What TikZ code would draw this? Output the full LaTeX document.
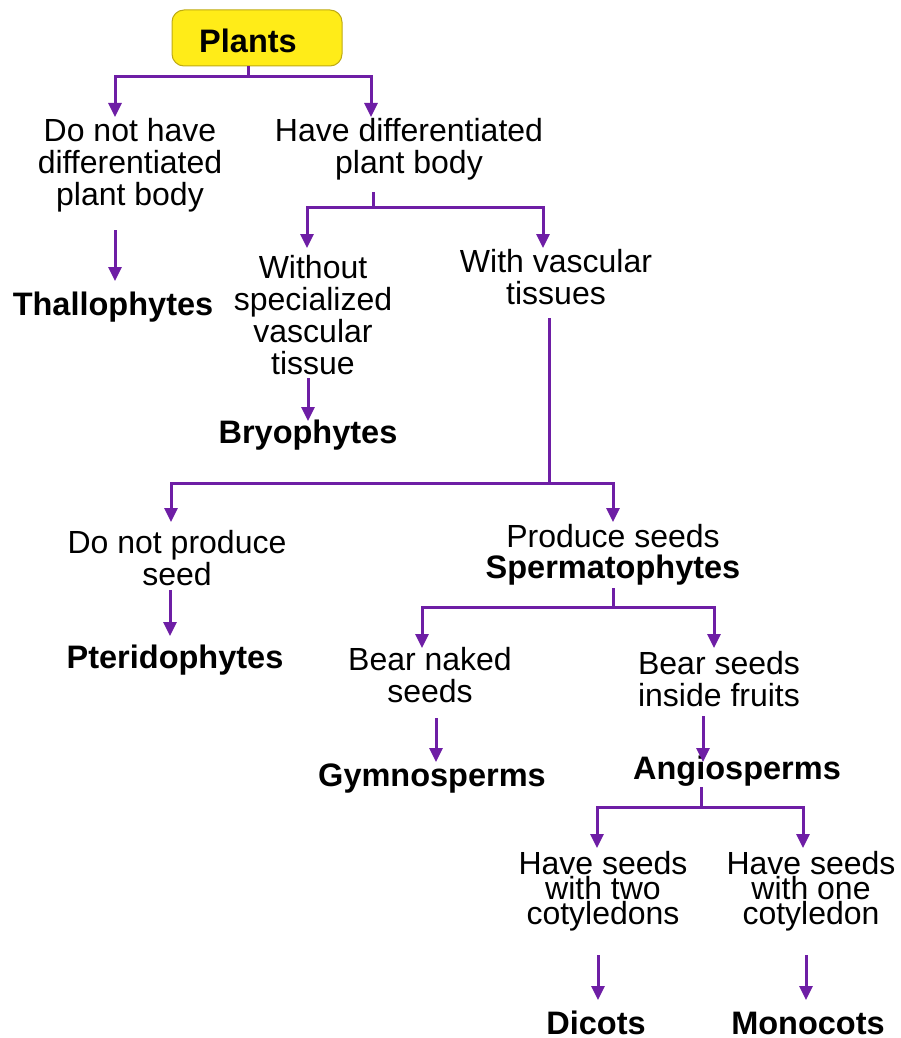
\documentclass[tikz,border=0pt]{standalone}
\usepackage{fontspec}
\setmainfont{Liberation Sans}
\usetikzlibrary{arrows.meta}
\definecolor{lineP}{RGB}{110,30,165}
\definecolor{boxY}{RGB}{255,236,24}
\definecolor{boxB}{RGB}{190,170,20}
\begin{document}
\begin{tikzpicture}[x=1pt,y=-1pt,
  txt/.style={font=\fontsize{32}{32}\selectfont, align=center, inner sep=0pt},
  tight/.style={font=\fontsize{32}{25}\selectfont, align=center, inner sep=0pt},
  bold/.style={font=\fontsize{32.5}{32}\selectfont\bfseries, inner sep=0pt},
  rootbox/.style={draw=boxB, fill=boxY, rounded corners=12pt, minimum width=170pt,
                  minimum height=56pt, line width=1pt},
  conn/.style={draw=lineP, line width=3pt},
  arr/.style={conn, -{Triangle[width=13pt,length=14pt]}}
]
\useasboundingbox (0,0) rectangle (901,1038);
% root
\node[rootbox] (plants) at (257,38) {};
\node[bold] (plantsT) at (248,41) {Plants};
% texts
\node[txt] (a) at (130,165) {Do not have\\differentiated\\plant body};
\node[bold] (thallo) at (113,307) {Thallophytes};
\node[txt] (b) at (409,149) {Have differentiated\\plant body};
\node[txt] (c) at (313,315) {Without\\specialized\\vascular\\tissue};
\node[bold] (bryo) at (308,435) {Bryophytes};
\node[txt] (d) at (556,277) {With vascular\\tissues};
\node[txt] (e) at (177,558) {Do not produce\\seed};
\node[bold] (pterido) at (175,660) {Pteridophytes};
\node[txt] (f) at (613,536) {Produce seeds};
\node[bold] (sperm) at (613,570) {Spermatophytes};
\node[txt] (g) at (430,675) {Bear naked\\seeds};
\node[bold] (gymno) at (432,779) {Gymnosperms};
\node[txt] (h) at (719,679) {Bear seeds\\inside fruits};
\node[bold] (angio) at (737,771) {Angiosperms};
\node[tight] (i) at (603,891) {Have seeds\\with two\\cotyledons};
\node[tight] (j) at (811,891) {Have seeds\\with one\\cotyledon};
\node[bold] (dicots) at (596,1023) {Dicots};
\node[bold] (mono) at (808,1023) {Monocots};
% coordinates
\coordinate (j1) at (248,77);
\coordinate (t1a) at (115,117);
\coordinate (t1b) at (371,117);
\coordinate (s2) at (373,192);
\coordinate (j2) at (373,207);
\coordinate (t2a) at (307,248);
\coordinate (t2b) at (543,248);
\coordinate (sa) at (115,230);
\coordinate (ta) at (115,281);
\coordinate (sc) at (308,378);
\coordinate (tc) at (308,421);
\coordinate (s3) at (549,318);
\coordinate (j3) at (549,483);
\coordinate (t3a) at (171,522);
\coordinate (t3b) at (613,522);
\coordinate (se) at (170,590);
\coordinate (te) at (170,636);
\coordinate (s4) at (613,588);
\coordinate (j4) at (613,607);
\coordinate (t4a) at (422,648);
\coordinate (t4b) at (714,648);
\coordinate (sg) at (436,718);
\coordinate (tg) at (436,762);
\coordinate (sh) at (703,716);
\coordinate (th) at (703,762);
\coordinate (s5) at (701,787);
\coordinate (j5) at (701,807);
\coordinate (t5a) at (597,848);
\coordinate (t5b) at (803,848);
\coordinate (si) at (598,955);
\coordinate (ti) at (598,1000);
\coordinate (sj) at (806,955);
\coordinate (tj) at (806,1000);
% connectors
\draw[conn] (plantsT |- plants.south) -- (j1);
\draw[arr] (j1) -| (t1a);
\draw[arr] (j1) -| (t1b);
\draw[arr] (sa) -- (ta);
\draw[conn] (s2) -- (j2);
\draw[arr] (j2) -| (t2a);
\draw[arr] (j2) -| (t2b);
\draw[arr] (sc) -- (tc);
\draw[conn] (s3) -- (j3);
\draw[arr] (j3) -| (t3a);
\draw[arr] (j3) -| (t3b);
\draw[arr] (se) -- (te);
\draw[conn] (s4) -- (j4);
\draw[arr] (j4) -| (t4a);
\draw[arr] (j4) -| (t4b);
\draw[arr] (sg) -- (tg);
\draw[arr] (sh) -- (th);
\draw[conn] (s5) -- (j5);
\draw[arr] (j5) -| (t5a);
\draw[arr] (j5) -| (t5b);
\draw[arr] (si) -- (ti);
\draw[arr] (sj) -- (tj);
\end{tikzpicture}
\end{document}
